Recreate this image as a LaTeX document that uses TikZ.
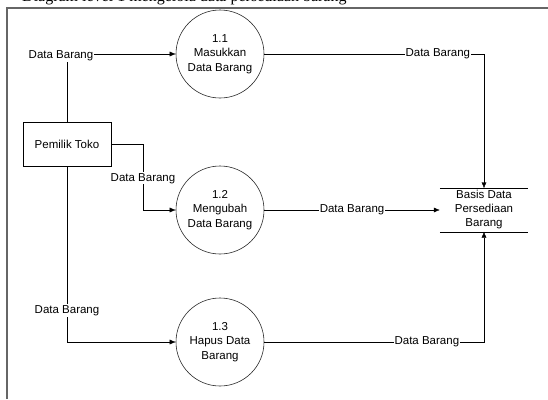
\documentclass[tikz,border=0pt]{standalone}
\usepackage{fontspec}
\setmainfont{Liberation Sans}
\newfontfamily\captionserif{Liberation Serif}
\usetikzlibrary{arrows,arrows.meta,shapes}

\begin{document}
\begin{tikzpicture}[->,>={Latex[length=6pt,width=5pt]},x=1pt,y=-1pt,
	font=\fontsize{11.5}{13}\selectfont,
	process node/.style={circle,draw=black!85,semithick,minimum size=88pt,inner sep=0pt,align=center,font=\fontsize{11.5}{14.5}\selectfont},
	entity node/.style={rectangle,draw,thin,minimum width=88pt,minimum height=44pt},
	store node/.style={rectangle,minimum width=88pt,minimum height=43pt,inner sep=0pt,align=center,font=\fontsize{11.5}{14}\selectfont},
	flow label/.style={fill=white,inner sep=1pt}
]

	\useasboundingbox (0,0) rectangle (548,399);

	% caption line of the page, cut at the top
	\begin{scope}
		\clip (0,0) rectangle (548,7);
		\node[anchor=base west,inner sep=0pt,font=\captionserif\fontsize{16}{16}\selectfont] (caption) at (22,1) {Diagram level 1 mengelola data persediaan barang};
	\end{scope}

	% frame
	\draw[-,line width=1.5pt,black!60] (7,399) -- (7,8) -- (548,8);

	\node[entity node] (toko) at (67,144) {Pemilik Toko};

	\node[process node] (p1) at (220,54) {1.1\\Masukkan\\Data Barang};
	\node[process node] (p2) at (220,210) {1.2\\Mengubah\\Data Barang};
	\node[process node] (p3) at (220,342) {1.3\\Hapus Data\\Barang};

	\node[store node] (db) at (484,210) {Basis Data\\Persediaan\\Barang};
	\draw[-] (db.north west) -- (db.north east);
	\draw[-] (db.south west) -- (db.south east);

	% flows from the owner
	\draw (toko.north) |- node[flow label,pos=0.5,xshift=-6pt,yshift=-2pt] {Data Barang} (p1);
	\draw (toko.east) -- (143,144) |- node[flow label,pos=0.26] {Data Barang} (p2);
	\draw (toko.south) |- node[flow label,pos=0.41] {Data Barang} (p3);

	% flows into the store
	\draw (p1) -| node[flow label,pos=0.395] {Data Barang} (db.north);
	\draw (p2) -- node[flow label] {Data Barang} (db);
	\draw (p3) -| node[flow label,pos=0.37] {Data Barang} (db.south);
\end{tikzpicture}
\end{document}
